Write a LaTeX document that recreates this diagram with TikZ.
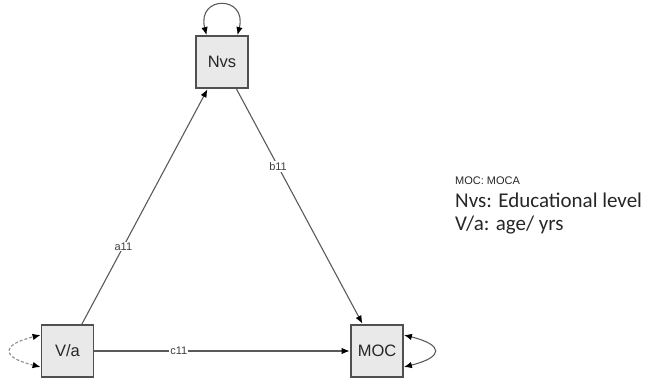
\documentclass[tikz,border=0pt]{standalone}
\usepackage{fontspec}
\setmainfont{Liberation Sans}
\newfontfamily\legendfont{Carlito}
\usetikzlibrary{arrows.meta}
\definecolor{boxfill}{HTML}{E9E9E9}
\definecolor{boxline}{HTML}{505050}
\definecolor{edgeline}{HTML}{5A5A5A}
\begin{document}
\begin{tikzpicture}[x=1pt,y=-1pt,
  tip/.tip={Latex[length=8pt,width=6.5pt,color=black]},
  var/.style={draw=boxline,fill=boxfill,line width=1.8pt,minimum width=52pt,minimum height=52pt,
    inner sep=0pt,font=\fontsize{16.5}{16.5}\selectfont,text=black!85},
  path/.style={draw=edgeline,line width=1.1pt,-tip,shorten >=0.5pt},
  var2/.style={draw=edgeline,line width=1.1pt,tip-tip},
  elabel/.style={fill=white,inner sep=1pt,font=\fontsize{11}{11}\selectfont,text=black!75},
  legend/.style={anchor=base west,inner sep=0pt,text=black!85}]
\useasboundingbox (0,0) rectangle (647,379);

% observed variables
\node[var] (nvs) at (222,62) {Nvs};
\node[var] (va)  at (67.5,351) {V/a};
\node[var] (moc) at (377,351) {MOC};

% regression paths
\draw[path] (va) -- node[elabel,pos=0.33] {a11} (nvs);
\draw[path] (nvs) -- node[elabel,pos=0.33] {b11} (moc);
\draw[path] (va) -- node[elabel,pos=0.33] {c11} (moc);

% (residual) variances
\draw[var2] ([xshift=-15.5pt]nvs.north) .. controls +(-10,-40) and +(10,-40) .. ([xshift=15.5pt]nvs.north);
\draw[var2] ([yshift=-16pt]moc.east) .. controls +(40,-10) and +(40,10) .. ([yshift=16pt]moc.east);
\draw[var2,draw=edgeline!70,dash pattern=on 3pt off 2pt] ([yshift=-16pt]va.west) .. controls +(-40,-10) and +(-40,10) .. ([yshift=16pt]va.west);

% legend
\node[legend,font=\fontsize{11}{11}\selectfont] (l1) at (455,185) {MOC: MOCA};
\node[legend,font=\legendfont\fontsize{21}{21}\selectfont] (l2) at (455,208) {Nvs: Educational level};
\node[legend,font=\legendfont\fontsize{21}{21}\selectfont] (l3) at (455,230) {V/a: age/ yrs};
\end{tikzpicture}
\end{document}
